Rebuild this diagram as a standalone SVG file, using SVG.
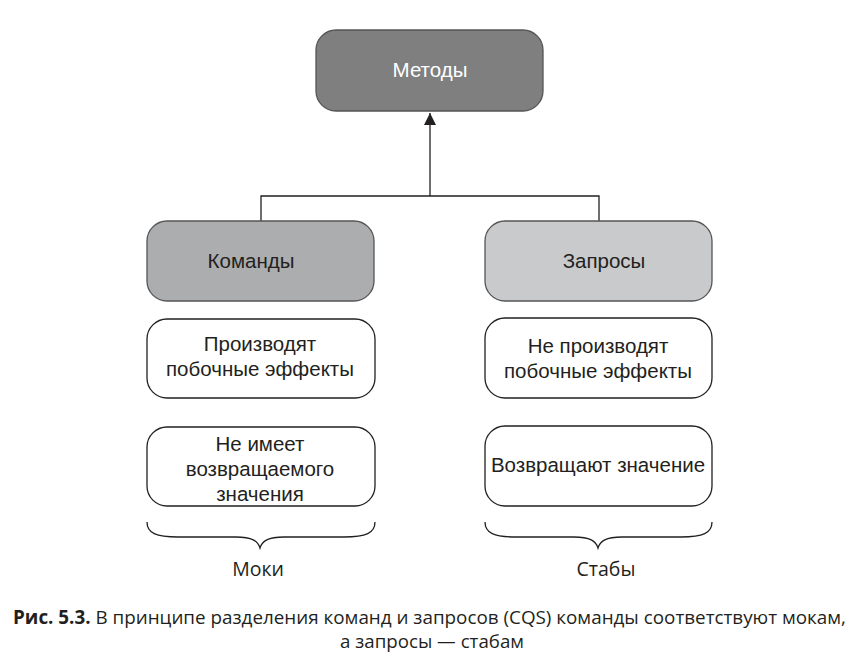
<svg xmlns="http://www.w3.org/2000/svg" width="865" height="666" viewBox="0 0 865 666">
<style>
.box{stroke:#555557;stroke-width:1.3}
.w{fill:#ffffff;stroke:#231f20;stroke-width:1.3}
.t{font-family:"Liberation Sans",Arial,sans-serif;font-size:20.5px;fill:#231f20;text-anchor:middle}
.b{font-family:"Open Sans","Noto Sans",sans-serif;font-size:19.5px;fill:#231f20;text-anchor:middle}
.cap{font-family:"Open Sans","Noto Sans",sans-serif;font-size:19px;fill:#231f20}
.ln{fill:none;stroke:#231f20;stroke-width:1.3}
</style>
<defs>
<marker id="ah" viewBox="0 0 12 14" refX="12" refY="6" markerWidth="12" markerHeight="14" markerUnits="userSpaceOnUse" orient="auto">
<path d="M0,0 L12,6 L0,12 z" fill="#231f20"/>
</marker>
</defs>
<rect width="865" height="666" fill="#ffffff"/>
<g id="connectors">
<path class="ln" d="M261,221 V196 H599 V221"/>
<path class="ln" d="M430,196 V113" marker-end="url(#ah)"/>
</g>
<g id="metody">
<rect class="box" x="316" y="30" width="227" height="81" rx="20" fill="#7f7f80"/>
<text class="t" x="430" y="77" style="fill:#ffffff">Методы</text>
</g>
<g id="komandy">
<rect class="box" x="147" y="221" width="227" height="80" rx="20" fill="#acadaf"/>
<text class="t" x="251" y="268">Команды</text>
</g>
<g id="zaprosy">
<rect class="box" x="485" y="221" width="227" height="80" rx="20" fill="#c9cacb"/>
<text class="t" x="604" y="268">Запросы</text>
</g>
<g id="proizvodyat">
<rect class="w" x="147" y="319" width="228" height="79" rx="20"/>
<text class="t" x="260" y="351">Производят</text>
<text class="t" x="260" y="376">побочные эффекты</text>
</g>
<g id="ne-imeet">
<rect class="w" x="147" y="427" width="228" height="79" rx="20"/>
<text class="t" x="260" y="451">Не имеет</text>
<text class="t" x="260" y="476">возвращаемого</text>
<text class="t" x="260" y="501">значения</text>
</g>
<g id="ne-proizvodyat">
<rect class="w" x="485" y="318" width="227" height="80" rx="20"/>
<text class="t" x="598" y="353">Не производят</text>
<text class="t" x="598" y="378">побочные эффекты</text>
</g>
<g id="vozvrashchayut">
<rect class="w" x="485" y="426" width="227" height="80" rx="20"/>
<text class="t" x="598" y="472">Возвращают значение</text>
</g>
<g id="moki">
<path class="ln" d="M147,522 C147,533 156,537 178,537 L236,537 C252,537 258,541 260,548 C262,541 268,537 284,537 L344,537 C366,537 375,533 375,522"/>
<text class="b" x="258" y="576">Моки</text>
</g>
<g id="staby">
<path class="ln" d="M485,522 C485,533 494,537 516,537 L574,537 C590,537 596,541 598,548 C600,541 606,537 622,537 L681,537 C703,537 712,533 712,522"/>
<text class="b" x="606" y="576">Стабы</text>
</g>
<g id="caption">
<text class="cap" x="13" y="624" textLength="833" lengthAdjust="spacingAndGlyphs"><tspan font-weight="bold">Рис. 5.3.</tspan> В принципе разделения команд и запросов (CQS) команды соответствуют мокам,</text>
<text class="cap" x="340" y="648" textLength="184" lengthAdjust="spacingAndGlyphs">а запросы — стабам</text>
</g>
</svg>
